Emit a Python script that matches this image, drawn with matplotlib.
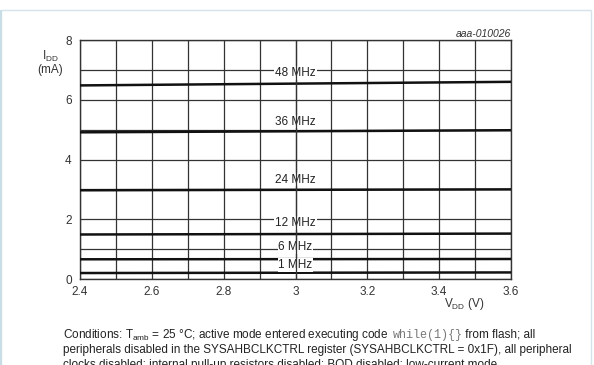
import numpy as np
import matplotlib
matplotlib.use("Agg")
import matplotlib.pyplot as plt
from matplotlib.patches import Rectangle

plt.rcParams['font.family'] = ['Liberation Sans', 'DejaVu Sans']

# supply voltage (V) at the two ends of each curve
vdd = [2.4, 3.6]

# supply current (mA) per clock frequency, left and right ends
freq_labels = ['48 MHz', '36 MHz', '24 MHz', '12 MHz', '6 MHz', '1 MHz']
idd_48 = [6.48, 6.60]
idd_36 = [4.91, 4.98]
idd_24 = [2.97, 3.00]
idd_12 = [1.49, 1.52]
idd_6 = [0.66, 0.67]
idd_1 = [0.20, 0.22]
label_y = [6.89, 5.27, 3.33, 1.87, 1.06, 0.47]

x_ticks = [2.4, 2.6, 2.8, 3.0, 3.2, 3.4, 3.6]
x_tick_labels = ['2.4', '2.6', '2.8', '3', '3.2', '3.4', '3.6']
y_ticks = [0, 2, 4, 6, 8]

fig = plt.figure(figsize=(5.94, 3.65), dpi=100)

# light frame round the whole figure
fig.patches.append(Rectangle((0.002, -0.01), 0.993, 0.983, transform=fig.transFigure,
                             fill=False, edgecolor='#d5e3ea', linewidth=1.0))
fig.patches.append(Rectangle((0.0, 0.0), 0.004, 0.973, transform=fig.transFigure,
                             facecolor='#c9dde7', edgecolor='none'))

ax = fig.add_axes([0.1347, 0.2356, 0.7256, 0.6548])
ax.set_xlim(2.4, 3.6)
ax.set_ylim(0, 8)

ax.set_xticks(x_ticks)
ax.set_xticklabels(x_tick_labels)
ax.set_yticks(y_ticks)
ax.set_xticks(np.arange(2.5, 3.6, 0.2), minor=True)
ax.set_yticks([1, 3, 5, 7], minor=True)
ax.tick_params(which='both', length=0, labelsize=8.5, colors='#333333')
ax.tick_params(axis='x', pad=5)
ax.tick_params(axis='y', pad=6)
ax.grid(which='both', color='#333333', linewidth=0.9)
for s in ax.spines.values():
    s.set_color('#333333')
    s.set_linewidth(1.0)

series = [idd_48, idd_36, idd_24, idd_12, idd_6, idd_1]
for vals in series:
    ax.plot(vdd, vals, color='#111111', linewidth=1.8, zorder=3)

for lab, ly in zip(freq_labels, label_y):
    ax.text(3.0, ly, lab, ha='center', va='center', fontsize=8.5, color='#222222', zorder=4,
            bbox=dict(facecolor='white', edgecolor='none', pad=0.5))
# vertical grid line at 3 V runs through the labels
ax.axvline(3.0, color='#333333', linewidth=0.9, zorder=5)

fig.text(0.0842, 0.83, 'I$_{\\mathregular{DD}}$\n(mA)', ha='center', va='center',
         fontsize=8.5, color='#333333', linespacing=1.0)
fig.text(0.781, 0.168, 'V$_{\\mathregular{DD}}$ (V)', ha='center', va='center',
         fontsize=8.5, color='#333333')
fig.text(0.8603, 0.906, 'aaa-010026', ha='right', va='center', fontsize=7.5,
         style='italic', color='#333333')

# caption below the chart
cap_x = 0.106
cap_fs = 8.5
t1 = fig.text(cap_x, 0.074, 'Conditions: T$_{\\mathregular{amb}}$ = 25 °C; active mode entered executing code',
              fontsize=cap_fs, color='#222222', va='baseline')
t2 = fig.text(0, 0, 'while(1){}', fontsize=cap_fs, family='Liberation Mono', color='#777777')
t3 = fig.text(0, 0, ' from flash; all', fontsize=cap_fs, color='#222222')
fig.canvas.draw()
r = fig.canvas.get_renderer()
bb = t1.get_window_extent(r).transformed(fig.transFigure.inverted())
t2.set_position((bb.x1 + 0.007, 0.074))
t2.set_va('baseline')
fig.canvas.draw()
bb2 = t2.get_window_extent(r).transformed(fig.transFigure.inverted())
t3.set_position((bb2.x1, 0.074))
t3.set_va('baseline')
fig.text(cap_x, 0.033, 'peripherals disabled in the SYSAHBCLKCTRL register (SYSAHBCLKCTRL = 0x1F), all peripheral',
         fontsize=cap_fs, color='#222222', va='baseline')
fig.text(cap_x, -0.008, 'clocks disabled; internal pull-up resistors disabled; BOD disabled; low-current mode.',
         fontsize=cap_fs, color='#222222', va='baseline')

fig.savefig('out.png', dpi=100)
